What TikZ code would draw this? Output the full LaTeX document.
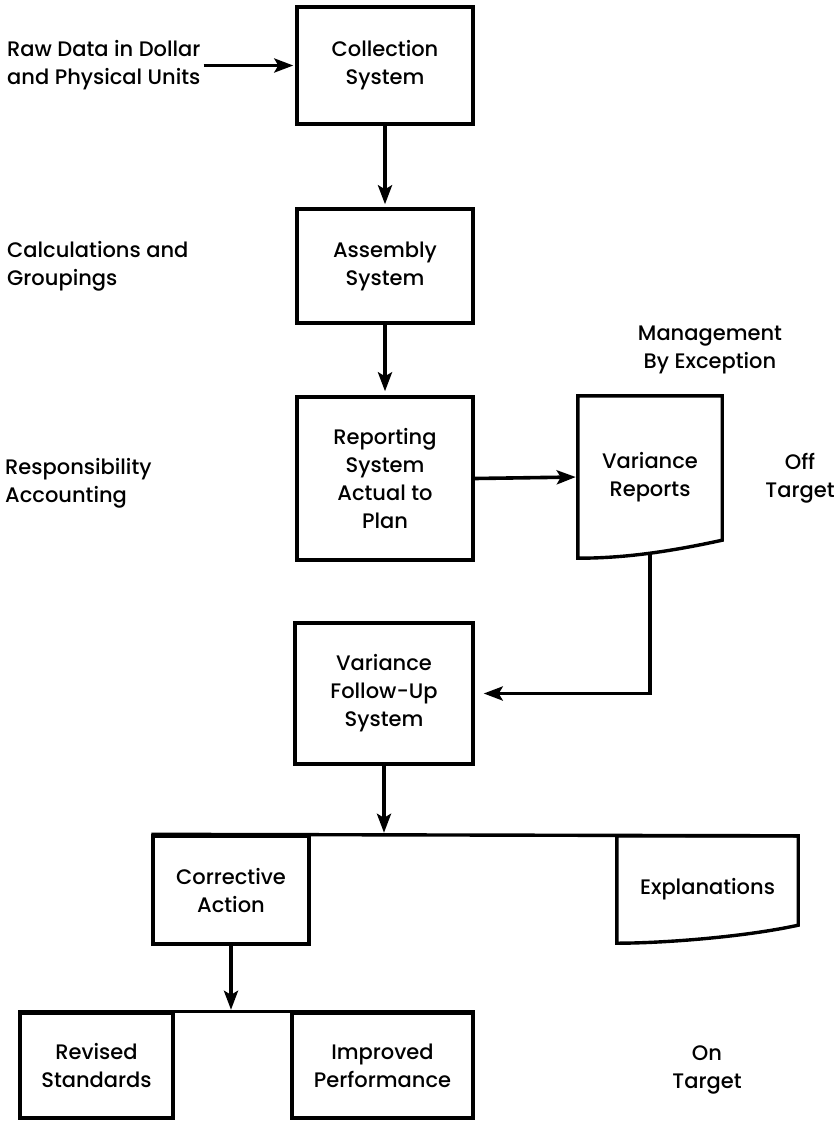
\documentclass[tikz,border=0pt]{standalone}
\usepackage{fontspec}
\setmainfont{Poppins Medium}
\usetikzlibrary{positioning,arrows.meta,calc}

\begin{document}
\begin{tikzpicture}[x=1pt, y=-1pt,
  font=\fontsize{21}{28}\selectfont,
  box/.style={rectangle, draw, line width=3.4pt, align=center, inner sep=0pt},
  doc/.style={rectangle, align=center, inner sep=0pt},
  note/.style={align=left, inner sep=0pt},
  side/.style={align=center, inner sep=0pt},
  line/.style={line width=3.4pt},
  arr/.style={-{Stealth[length=19pt, width=14pt, inset=4pt]}, line width=3.6pt}]
  \useasboundingbox (0,0) rectangle (839,1122);
  % main column
  \node[box, minimum width=176pt, minimum height=117pt] (collect) at (385,65.5) {Collection\\System};
  \node[box, minimum width=176pt, minimum height=114pt] (assembly) at (385,266) {Assembly\\System};
  \node[box, minimum width=176pt, minimum height=163pt] (report) at (385,478.5) {Reporting\\System\\Actual to\\Plan};
  \node[box, minimum width=178pt, minimum height=141pt] (followup) at (384,693.5) {Variance\\Follow-Up\\System};
  \node[doc, minimum width=144pt, minimum height=162pt] (varrep) at (650,477) {Variance\\Reports};
  % outcomes
  \node[box, minimum width=156pt, minimum height=108pt] (corrective) at (231,890) {Corrective\\Action};
  \node[doc, minimum width=181pt, minimum height=107pt] (explan) at (707.5,889.5) {Explanations};
  \node[box, minimum width=153pt, minimum height=105pt] (revised) at (96.5,1065.5) {Revised\\Standards};
  \node[box, minimum width=181pt, minimum height=105pt] (improved) at (382.5,1065.5) {Improved\\Performance};
  % side notes
  \node[note, anchor=west] (rawdata) at (7,65.5) {Raw Data in Dollar\\and Physical Units};
  \node[note, anchor=west] (calc) at (7,266) {Calculations and\\Groupings};
  \node[note, anchor=west] (resp) at (5,483) {Responsibility\\Accounting};
  \node[side] (mbe) at (710,350) {Management\\By Exception};
  \node[side] (offtgt) at (800,478) {Off\\Target};
  \node[side] (ontgt) at (707,1070) {On\\Target};
  % document outlines
  \foreach \d in {varrep,explan}
    \draw[line] (\d.south west) -- (\d.north west) -- (\d.north east)
      -- ([yshift=18pt]\d.south east)
      .. controls ([xshift=-55pt,yshift=6pt]\d.south east) and ([xshift=45pt]\d.south west) .. (\d.south west) -- cycle;
  % connectors
  \draw[arr, shorten <=3pt, shorten >=2pt] (rawdata.east) -- (collect.west);
  \draw[arr, shorten >=3pt] (collect.south) -- (assembly.north);
  \draw[arr, shorten >=4pt] (assembly.south) -- (report.north);
  \draw[arr, shorten >=2pt] (report.east) -- (varrep.west);
  \draw[arr, shorten >=9pt] ([yshift=5pt]varrep.south) |- (followup.east);
  \coordinate (fork) at (followup.south |- corrective.north);
  \draw[line] (corrective.north west) -- (explan.north east);
  \draw[arr, shorten >=1.5pt] (followup.south) -- (fork);
  \draw[line] (revised.north west) -- (improved.north east);
  \draw[arr, shorten >=1.5pt] (corrective.south) -- (corrective.south |- revised.north);
\end{tikzpicture}
\end{document}
